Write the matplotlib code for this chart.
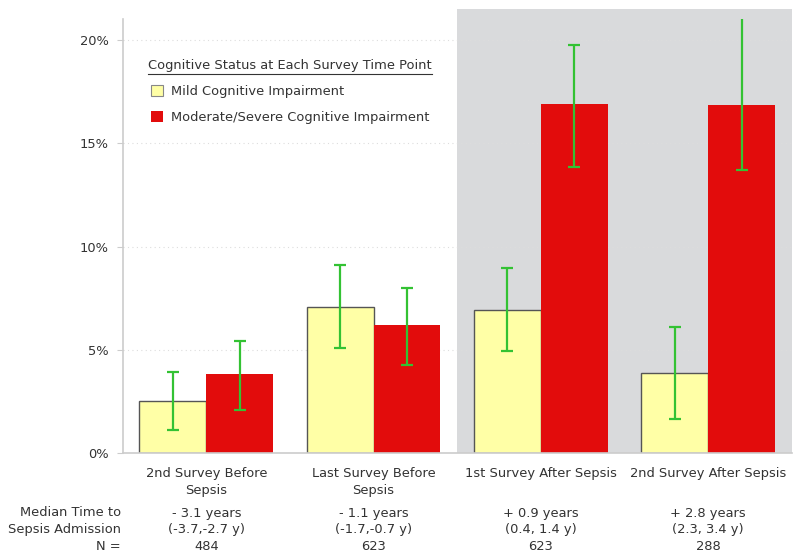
import numpy as np
import matplotlib
matplotlib.use("Agg")
import matplotlib.pyplot as plt
import matplotlib.transforms as mtransforms
from matplotlib.patches import Patch
from matplotlib.lines import Line2D

categories = ["2nd Survey Before\nSepsis", "Last Survey Before\nSepsis",
              "1st Survey After Sepsis", "2nd Survey After Sepsis"]
mild = [2.52, 7.07, 6.92, 3.86]
mild_lo = [1.13, 5.07, 4.97, 1.65]
mild_hi = [3.92, 9.10, 8.97, 6.11]
severe = [3.82, 6.20, 16.88, 16.82]
severe_lo = [2.08, 4.26, 13.86, 13.71]
severe_hi = [5.42, 7.99, 19.75, 21.3]
median_time = ["- 3.1 years", "- 1.1 years", "+ 0.9 years", "+ 2.8 years"]
median_range = ["(-3.7,-2.7 y)", "(-1.7,-0.7 y)", "(0.4, 1.4 y)", "(2.3, 3.4 y)"]
n_counts = [484, 623, 623, 288]
yticks = [0, 5, 10, 15, 20]

plt.rcParams['font.family'] = ['DejaVu Sans']
txt_color = '#333333'
fs = 9.4

fig = plt.figure(figsize=(8, 5.6), dpi=100)
ax = fig.add_axes([0.1534, 0.1905, 0.9896 - 0.1534, 0.966 - 0.1905])

x = np.arange(len(categories))
w = 0.4

# shaded "after sepsis" region
ax.axvspan(1.5, 3.5, ymin=0, ymax=21.5 / 21, color='#d9dadc', zorder=0, clip_on=False, lw=0)

ax.bar(x - w / 2, mild, w, color='#ffffa6', edgecolor='#555555', linewidth=1, zorder=2)
ax.bar(x + w / 2, severe, w, color='#e20c0c', edgecolor='none', zorder=2)

err_mild = [np.array(mild) - np.array(mild_lo), np.array(mild_hi) - np.array(mild)]
err_sev = [np.array(severe) - np.array(severe_lo), np.array(severe_hi) - np.array(severe)]
ax.errorbar(x - w / 2, mild, yerr=err_mild, fmt='none', ecolor='#33c233', elinewidth=1.6,
            capsize=4, capthick=1.6, zorder=3)
ax.errorbar(x + w / 2, severe, yerr=err_sev, fmt='none', ecolor='#33c233', elinewidth=1.6,
            capsize=4, capthick=1.6, zorder=3)

ax.set_xlim(-0.5, 3.5)
ax.set_ylim(0, 21)
ax.set_yticks(yticks)
ax.set_yticklabels([f'{t}%' for t in yticks], fontsize=fs, color=txt_color)
ax.set_xticks(x)
ax.set_xticklabels(categories, fontsize=fs, color=txt_color, linespacing=1.35)
ax.tick_params(axis='x', length=0, pad=10)
ax.tick_params(axis='y', length=4, color='#cccccc', pad=6)
ax.grid(axis='y', linestyle=(0, (1, 3)), color='#dddddd', linewidth=0.8, zorder=1)
ax.set_axisbelow(True)
for s in ['top', 'right']:
    ax.spines[s].set_visible(False)
for s in ['left', 'bottom']:
    ax.spines[s].set_color('#cccccc')
    ax.spines[s].set_linewidth(1.2)

# table rows below the axis
trans = mtransforms.blended_transform_factory(ax.transData, fig.transFigure)
for i in range(len(categories)):
    ax.text(x[i], 1 - 513 / 560, median_time[i], transform=trans, ha='center', va='center',
            fontsize=fs, color=txt_color)
    ax.text(x[i], 1 - 530 / 560, median_range[i], transform=trans, ha='center', va='center',
            fontsize=fs, color=txt_color)
    ax.text(x[i], 1 - 547 / 560, str(n_counts[i]), transform=trans, ha='center', va='center',
            fontsize=fs, color=txt_color)
fig.text(121 / 800, 1 - 513 / 560, 'Median Time to', ha='right', va='center', fontsize=fs, color=txt_color)
fig.text(121 / 800, 1 - 530 / 560, 'Sepsis Admission', ha='right', va='center', fontsize=fs, color=txt_color)
fig.text(121 / 800, 1 - 547 / 560, 'N =', ha='right', va='center', fontsize=fs, color=txt_color)

# legend with underlined title
title = fig.text(148 / 800, 1 - 66 / 560, 'Cognitive Status at Each Survey Time Point',
                 ha='left', va='center', fontsize=fs, color=txt_color)
fig.canvas.draw()
bb = title.get_window_extent()
fig.add_artist(Line2D([bb.x0 / 800, bb.x1 / 800], [(bb.y0 - 1) / 560, (bb.y0 - 1) / 560],
                      color=txt_color, lw=0.8))

handles = [Patch(facecolor='#ffffa6', edgecolor='#888888', linewidth=0.8, label='Mild Cognitive Impairment'),
           Patch(facecolor='#e20c0c', edgecolor='none', label='Moderate/Severe Cognitive Impairment')]
leg = fig.legend(handles=handles, loc='upper left', bbox_to_anchor=(147 / 800, 1 - 81 / 560),
                 frameon=False, fontsize=fs, handlelength=0.95, handleheight=0.95,
                 handletextpad=0.6, labelspacing=1.0, borderaxespad=0, borderpad=0.3)
for t in leg.get_texts():
    t.set_color(txt_color)

fig.savefig('out.png', dpi=100)
